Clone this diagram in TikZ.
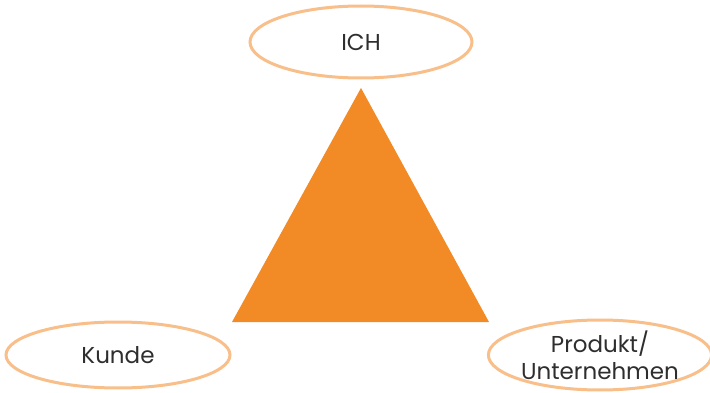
\documentclass[tikz,border=0pt]{standalone}
\usepackage{fontspec}
\setmainfont{Poppins}
\usetikzlibrary{shapes.geometric}
\definecolor{triorange}{HTML}{F28A26}
\definecolor{ringorange}{HTML}{F8BF8A}
\definecolor{txtgray}{HTML}{2E2E2E}
\begin{document}
\begin{tikzpicture}[x=1pt,y=-1pt,
  ring/.style={ellipse, draw=ringorange, line width=3pt, inner sep=0pt,
    text=txtgray, align=center, font=\fontsize{23}{27}\selectfont}]
\useasboundingbox (0,0) rectangle (710,393);
\fill[triorange] (361,88) -- (489,322) -- (232,322) -- cycle;
\node[ring, minimum width=222pt, minimum height=72pt] (ich) at (361,42) {ICH};
\node[ring, minimum width=224pt, minimum height=66pt] (kunde) at (118,355) {Kunde};
\node[ring, minimum width=216pt, minimum height=70pt] (produkt) at (600,355) {Produkt/\\Unternehmen};
\end{tikzpicture}
\end{document}
